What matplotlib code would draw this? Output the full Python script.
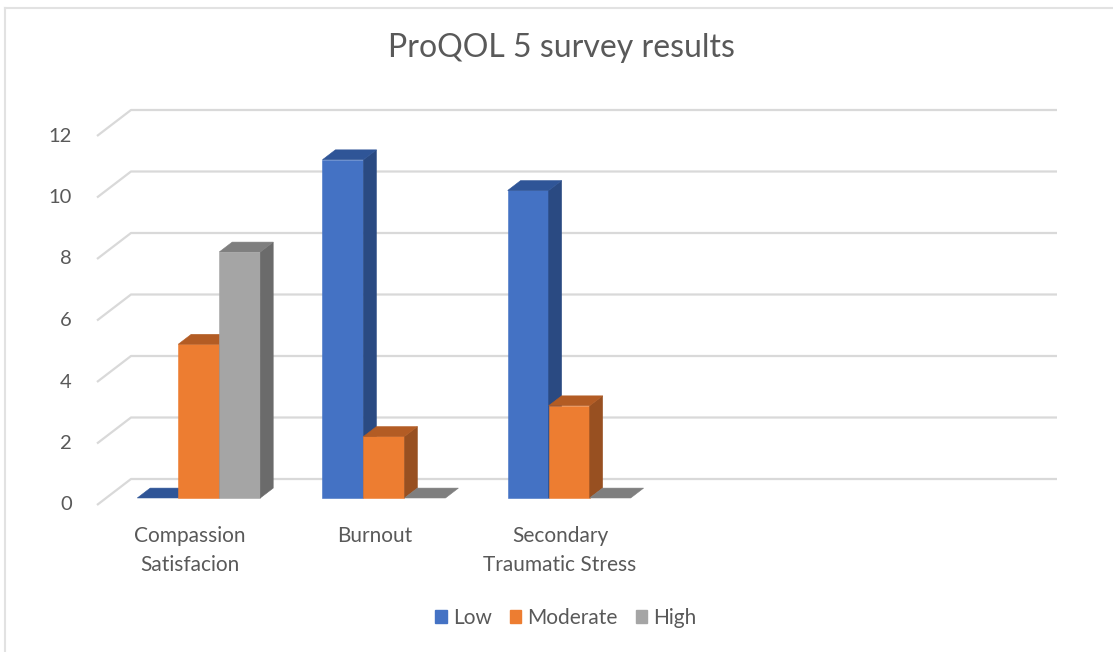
import matplotlib
matplotlib.use("Agg")
import matplotlib.pyplot as plt
from matplotlib.patches import Polygon, Patch
from matplotlib.lines import Line2D

# ---- data ----
categories = ["Compassion\nSatisfacion", "Burnout", "Secondary\nTraumatic Stress", "", ""]
series_names = ["Low", "Moderate", "High"]
low = [0, 11, 10]
moderate = [5, 2, 3]
high = [8, 0, 0]
y_ticks = [0, 2, 4, 6, 8, 10, 12]

# face / top / side shades for each series
front_colors = ["#4472C4", "#ED7D31", "#A5A5A5"]
top_colors = ["#2F5597", "#B35C24", "#7F7F7F"]
side_colors = ["#2A4A82", "#985021", "#6B6B6B"]
text_color = "#595959"
grid_color = "#D9D9D9"
font = ["Lato", "DejaVu Sans"]

W, H = 1113, 652
fig = plt.figure(figsize=(W / 100, H / 100), dpi=100)

# axes spans the front plane of the 3-D box
left_px, right_px = 97, 1023
bottom_px, top_px = 505, 136
ax = fig.add_axes([left_px / W, 1 - bottom_px / H,
                   (right_px - left_px) / W, (bottom_px - top_px) / H])
ncat = len(categories)
ax.set_xlim(-0.5, ncat - 0.5)
ax.set_ylim(y_ticks[0], y_ticks[-1])
ax.axis("off")

# depth vector of the floor, in data units
DX = 34 / ((right_px - left_px) / ncat)
DY = 26 / ((bottom_px - top_px) / (y_ticks[-1] - y_ticks[0]))

# gridlines on the side wall and back wall
x_left, x_right = -0.5, ncat - 0.5
for v in y_ticks:
    ax.plot([x_left, x_left + DX, x_right + DX], [v, v + DY, v + DY],
            color=grid_color, lw=1.6, clip_on=False, zorder=1,
            solid_capstyle="butt")
    ax.annotate(str(v), xy=(x_left, v), xytext=(-18, 0), textcoords="offset points",
                ha="right", va="center", fontsize=14.5, color=text_color,
                family=font, annotation_clip=False)

# 3-D columns
bw = 41 / ((right_px - left_px) / ncat)
d0, d1 = 0.27, 0.65
ddx, ddy = (d1 - d0) * DX, (d1 - d0) * DY
series = [low, moderate, high]
for i in range(len(low)):
    for k, vals in enumerate(series):
        v = vals[i]
        x0 = i - 1.5 * bw + k * bw + d0 * DX
        y0 = d0 * DY
        y1 = y0 + v
        z = 3 + i * 3 + k
        if v > 0:
            ax.add_patch(Polygon([(x0, y0), (x0 + bw, y0), (x0 + bw, y1), (x0, y1)],
                                 closed=True, facecolor=front_colors[k],
                                 edgecolor=front_colors[k], lw=0.4,
                                 clip_on=False, zorder=z))
            ax.add_patch(Polygon([(x0 + bw, y0), (x0 + bw + ddx, y0 + ddy),
                                  (x0 + bw + ddx, y1 + ddy), (x0 + bw, y1)],
                                 closed=True, facecolor=side_colors[k],
                                 edgecolor=side_colors[k], lw=0.4,
                                 clip_on=False, zorder=z))
        ax.add_patch(Polygon([(x0, y1), (x0 + bw, y1), (x0 + bw + ddx, y1 + ddy),
                              (x0 + ddx, y1 + ddy)],
                             closed=True, facecolor=top_colors[k],
                             edgecolor=top_colors[k], lw=0.4,
                             clip_on=False, zorder=z))

# category labels
for i, lab in enumerate(categories):
    if lab:
        ax.annotate(lab, xy=(i, 0), xytext=(0, -15), textcoords="offset points",
                    ha="center", va="top", fontsize=15, color=text_color,
                    family=font, linespacing=1.55, annotation_clip=False)

# title
fig.text(561 / W, 1 - 48 / H, "ProQOL 5 survey results", ha="center", va="center",
         fontsize=23, color=text_color, family=font)

# legend
handles = [Patch(facecolor=c, edgecolor=c) for c in front_colors]
fig.legend(handles, series_names, loc="center", bbox_to_anchor=(566 / W, 1 - 618 / H),
           ncol=3, frameon=False, handlelength=0.55, handleheight=0.55,
           handletextpad=0.3, columnspacing=0.85,
           prop={"family": font, "size": 15}, labelcolor=text_color)

# chart border (left and top edges)
fig.add_artist(Line2D([4.5 / W, 4.5 / W], [0, 1 - 7.5 / H], color="#E2E2E2", lw=1.5,
                      transform=fig.transFigure))
fig.add_artist(Line2D([4.5 / W, 1], [1 - 7.5 / H, 1 - 7.5 / H], color="#E2E2E2", lw=1.5,
                      transform=fig.transFigure))

fig.savefig("out.png", dpi=100, facecolor="white")
